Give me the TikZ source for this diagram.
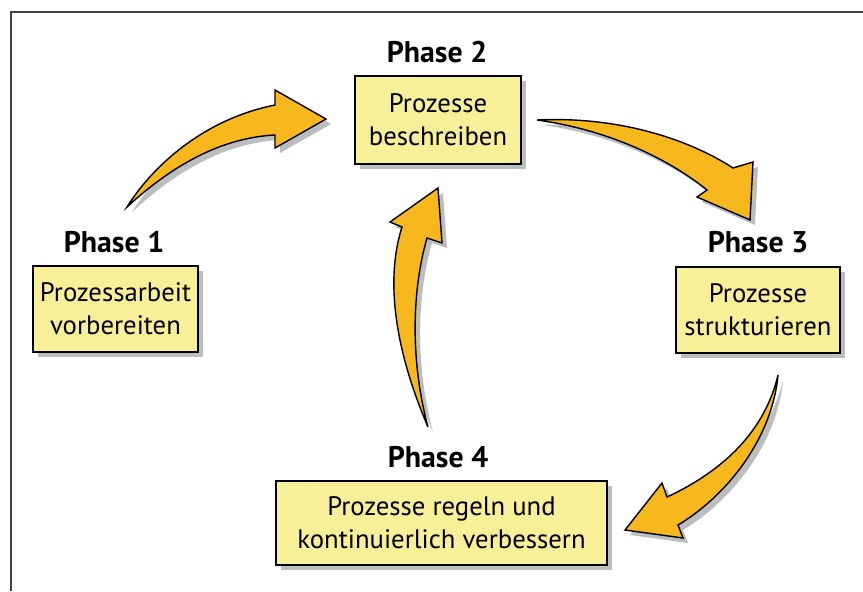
\documentclass[tikz,border=0pt]{standalone}
\usepackage{fontspec}
\setmainfont{PT Sans}
\usetikzlibrary{shadows}
\definecolor{boxyellow}{RGB}{247,240,152}
\definecolor{arrowgold}{RGB}{246,184,28}
\definecolor{shadowgray}{RGB}{186,190,190}
\tikzset{
	graydrop/.style={drop shadow={shadow xshift=1mm, shadow yshift=-1mm, fill=shadowgray, opacity=1}},
	phasebox/.style={draw=black, line width=1pt, fill=boxyellow, align=center, inner sep=0pt,
		font=\fontsize{15.2}{18.6}\selectfont, graydrop},
	phasetitle/.style={anchor=base, font=\fontsize{17}{20}\selectfont\bfseries},
	bigarrow/.style={draw=black, line width=0.8pt, fill=arrowgold, line join=miter, graydrop}
}

\begin{document}
\begin{tikzpicture}[x=0.2mm, y=-0.2mm]
\useasboundingbox (0,0) rectangle (863,591);
\draw[line width=1.2pt, draw=black!75] (11,591) -- (11,12) -- (863,12);
\node[phasebox, minimum width=33mm, minimum height=17.2mm] (p1) at (115.5,309) {Prozessarbeit\\vorbereiten};
\node[phasebox, minimum width=33.2mm, minimum height=17.6mm] (p2) at (438,120) {Prozesse\\beschreiben};
\node[phasebox, minimum width=32.8mm, minimum height=17.2mm] (p3) at (758,310) {Prozesse\\strukturieren};
\node[phasebox, minimum width=66.2mm, minimum height=16.8mm] (p4) at (441.5,523) {Prozesse regeln und\\kontinuierlich verbessern};
\node[phasetitle] (t1) at (114,252) {Phase 1};
\node[phasetitle] (t2) at (437,62) {Phase 2};
\node[phasetitle] (t3) at (758,252) {Phase 3};
\node[phasetitle] (t4) at (438,467) {Phase 4};
\draw[bigarrow] (127,207) .. controls (150,170) and (200,120) .. (275,105) -- (275,90) -- (326,119)
	-- (275,148) -- (275,135) .. controls (215,138) and (165,172) .. (127,207) -- cycle;
\draw[bigarrow] (537,120) .. controls (620,116) and (690,140) .. (733,168) -- (753,162) -- (750,220)
	-- (697,197) -- (707,190) .. controls (670,160) and (610,130) .. (537,120) -- cycle;
\draw[bigarrow] (778,375) .. controls (765,430) and (725,470) .. (667,497) -- (662,483) -- (625,530)
	-- (683,538) -- (678,525) .. controls (725,497) and (772,440) .. (778,375) -- cycle;
\draw[bigarrow] (428,427) .. controls (395,350) and (385,280) .. (402,227) -- (390,222) -- (438,188)
	-- (442,243) -- (427,238) .. controls (412,290) and (410,360) .. (428,427) -- cycle;
\end{tikzpicture}
\end{document}
